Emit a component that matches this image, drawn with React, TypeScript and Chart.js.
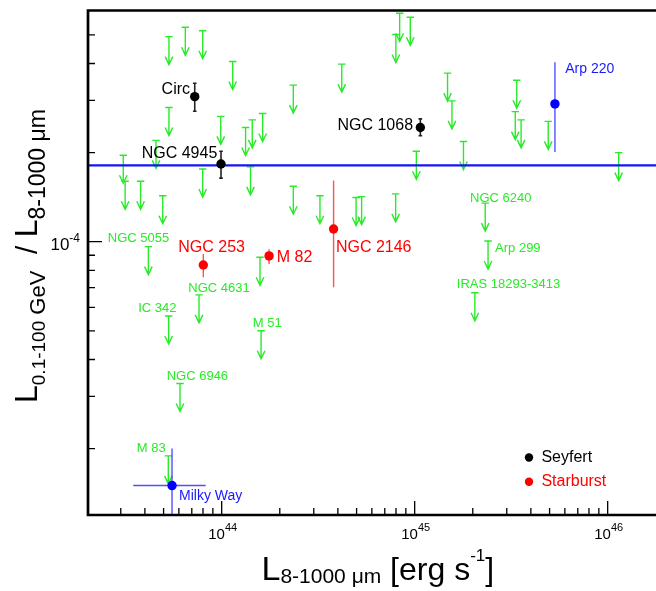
import React, { useEffect, useRef } from "react";
import { Chart, registerables } from "chart.js";

Chart.register(...registerables);

// ---------- axis ranges ----------
const X_MIN = 2.029e43;
const X_MAX = 1.78e46;
const Y_MIN = 1.193e-5;
const Y_MAX = 6.04e-4;

// ---------- ticks ----------
const xMajorTicks = [1e44, 1e45, 1e46];
const xMajorExponents = ["44", "45", "46"];
const xMinorTicks = [
  3e43, 4e43, 5e43, 6e43, 7e43, 8e43, 9e43,
  2e44, 3e44, 4e44, 5e44, 6e44, 7e44, 8e44, 9e44,
  2e45, 3e45, 4e45, 5e45, 6e45, 7e45, 8e45, 9e45,
];
const yMajorTicks = [1e-4];
const yMajorExponents = ["-4"];
const yMinorTicks = [2e-5, 3e-5, 4e-5, 5e-5, 6e-5, 7e-5, 8e-5, 9e-5, 2e-4, 3e-4, 4e-4, 5e-4];

// ---------- Seyferts (black) ----------
const seyfertNames = ["Circ", "NGC 4945", "NGC 1068"];
const seyfertL = [7.25e43, 9.92e43, 1.07e45];
const seyfertRatio = [3.09e-4, 1.83e-4, 2.43e-4];
const seyfertRatioLo = [2.76e-4, 1.64e-4, 2.28e-4];
const seyfertRatioHi = [3.43e-4, 2.02e-4, 2.6e-4];

// ---------- Starbursts (red) ----------
const starburstNames = ["NGC 253", "M 82", "NGC 2146"];
const starburstL = [8.03e43, 1.76e44, 3.8e44];
const starburstRatio = [8.34e-5, 8.95e-5, 1.104e-4];
const starburstRatioLo = [7.58e-5, 8.41e-5, 7.02e-5];
const starburstRatioHi = [9.09e-5, 9.43e-5, 1.61e-4];

// ---------- other detections (blue) ----------
const otherNames = ["Arp 220", "Milky Way"];
const otherL = [5.33e45, 5.53e43];
const otherLLo = [5.33e45, 3.48e43];
const otherLHi = [5.33e45, 8.26e43];
const otherRatio = [2.92e-4, 1.5e-5];
const otherRatioLo = [2.01e-4, 1.0e-5];
const otherRatioHi = [4.04e-4, 2.0e-5];

// ---------- upper limits (green) ----------
const limitNames = [
  "", "", "", "", "", "", "", "", "", "", "", "", "", "", "", "", "", "",
  "", "", "", "", "", "", "", "", "", "", "", "", "", "", "", "", "", "",
  "NGC 5055", "NGC 4631", "IC 342", "M 51", "NGC 6946", "M 83",
  "NGC 6240", "Arp 299", "IRAS 18293-3413",
];
const limitL = [
  3.09e43, 3.16e43, 3.8e43, 4.57e43, 4.95e43, 5.33e43, 5.33e43, 6.48e43, 7.97e43,
  7.97e43, 9.89e43, 1.14e44, 1.33e44, 1.44e44, 1.63e44, 1.41e44, 2.35e44, 2.35e44,
  3.23e44, 4.19e44, 4.97e44, 5.31e44, 7.97e44, 7.99e44, 8.36e44, 9.49e44, 1.02e45,
  1.48e45, 1.56e45, 1.79e45, 3.38e45, 3.32e45, 3.56e45, 4.92e45, 1.14e46, 1.58e44,
  4.17e43, 7.63e43, 5.31e43, 1.6e44, 6.08e43, 5.29e43,
  2.32e45, 2.4e45, 2.05e45,
];
const limitRatio = [
  1.96e-4, 1.6e-4, 1.6e-4, 2.2e-4, 1.43e-4, 4.93e-4, 2.84e-4, 5.3e-4, 5.16e-4,
  1.76e-4, 2.65e-4, 4.06e-4, 2.43e-4, 2.58e-4, 2.71e-4, 1.79e-4, 3.38e-4, 1.54e-4,
  1.43e-4, 3.98e-4, 1.41e-4, 1.42e-4, 1.45e-4, 5.01e-4, 5.91e-4, 5.73e-4, 2.02e-4,
  3.71e-4, 2.99e-4, 2.18e-4, 3.51e-4, 2.75e-4, 2.58e-4, 2.55e-4, 2.0e-4, 8.86e-5,
  9.62e-5, 6.61e-5, 5.61e-5, 5.0e-5, 3.32e-5, 1.89e-5,
  1.35e-4, 1.005e-4, 6.72e-5,
];

// ---------- mean ratio (horizontal line) ----------
const meanRatio = 1.81e-4;

// ---------- label placement (pixel offsets from the marker) ----------
type LabelPos = { dx: number; dy: number; align: CanvasTextAlign };
const labelLayout: Record<string, LabelPos> = {
  "Circ": { dx: -4.7, dy: -2.7, align: "right" },
  "NGC 4945": { dx: -3.7, dy: -5.7, align: "right" },
  "NGC 1068": { dx: -7.3, dy: 2.7, align: "right" },
  "NGC 253": { dx: -25, dy: -13.3, align: "left" },
  "M 82": { dx: 7.7, dy: 6.3, align: "left" },
  "NGC 2146": { dx: 2.3, dy: 22.7, align: "left" },
  "Arp 220": { dx: 10.3, dy: -30.7, align: "left" },
  "Milky Way": { dx: 7, dy: 14, align: "left" },
  "NGC 5055": { dx: -40.6, dy: -5, align: "left" },
  "NGC 4631": { dx: -10.7, dy: -3.3, align: "left" },
  "IC 342": { dx: -30.4, dy: -4.3, align: "left" },
  "M 51": { dx: -8.3, dy: -4, align: "left" },
  "NGC 6946": { dx: -13.3, dy: -3.3, align: "left" },
  "M 83": { dx: -31.6, dy: -3.4, align: "left" },
  "NGC 6240": { dx: -15.2, dy: -1.6, align: "left" },
  "Arp 299": { dx: 7, dy: 11.3, align: "left" },
  "IRAS 18293-3413": { dx: -18, dy: -5, align: "left" },
};

const FONT = '"Liberation Sans", Arial, Helvetica, sans-serif';
const GREEN = "rgb(40,235,40)";
const RED = "#ff0000";
const BLUE = "#1a1aff";

type Seg = { t: string; size: number; dy: number };

function drawRich(ctx: CanvasRenderingContext2D, segs: Seg[], x: number, y: number) {
  let cx = x;
  ctx.textAlign = "left";
  ctx.textBaseline = "alphabetic";
  for (const s of segs) {
    ctx.font = `${s.size}px ${FONT}`;
    ctx.fillText(s.t, cx, y + s.dy);
    cx += ctx.measureText(s.t).width;
  }
  return cx;
}

function richWidth(ctx: CanvasRenderingContext2D, segs: Seg[]) {
  let w = 0;
  for (const s of segs) {
    ctx.font = `${s.size}px ${FONT}`;
    w += ctx.measureText(s.t).width;
  }
  return w;
}

const customPlugin = {
  id: "customDraw",
  beforeDatasetsDraw(chart: any) {
    const { ctx, chartArea: a, scales } = chart;
    const xs = scales.x;
    const ys = scales.y;
    ctx.save();
    ctx.beginPath();
    ctx.rect(a.left, a.top, a.right - a.left, a.bottom - a.top);
    ctx.clip();

    // upper-limit arrows
    const meta = chart.getDatasetMeta(3);
    ctx.strokeStyle = GREEN;
    ctx.lineWidth = 1.4;
    meta.data.forEach((pt: any) => {
      const px = pt.x;
      const py = pt.y;
      const len = 28;
      ctx.beginPath();
      ctx.moveTo(px - 3.7, py);
      ctx.lineTo(px + 3.7, py);
      ctx.moveTo(px, py);
      ctx.lineTo(px, py + len);
      ctx.moveTo(px - 3.8, py + len - 8);
      ctx.lineTo(px, py + len);
      ctx.lineTo(px + 3.8, py + len - 8);
      ctx.stroke();
    });

    // error bars
    const bar = (
      xv: number, lo: number, hi: number, color: string, w: number, cap: number
    ) => {
      const px = xs.getPixelForValue(xv);
      const p1 = ys.getPixelForValue(lo);
      const p2 = ys.getPixelForValue(hi);
      ctx.strokeStyle = color;
      ctx.lineWidth = w;
      ctx.beginPath();
      ctx.moveTo(px, p1);
      ctx.lineTo(px, p2);
      if (cap > 0) {
        ctx.moveTo(px - cap, p1);
        ctx.lineTo(px + cap, p1);
        ctx.moveTo(px - cap, p2);
        ctx.lineTo(px + cap, p2);
      }
      ctx.stroke();
    };
    seyfertL.forEach((xv, i) => bar(xv, seyfertRatioLo[i], seyfertRatioHi[i], "#222", 1.6, 1.8));
    starburstL.forEach((xv, i) =>
      bar(xv, starburstRatioLo[i], starburstRatioHi[i], "rgba(255,40,40,0.8)", 1.4, 0)
    );
    otherL.forEach((xv, i) => {
      bar(xv, otherRatioLo[i], otherRatioHi[i], "rgba(50,50,255,0.85)", 1.4, 0);
      if (otherLLo[i] !== otherLHi[i]) {
        const py = ys.getPixelForValue(otherRatio[i]);
        ctx.beginPath();
        ctx.moveTo(xs.getPixelForValue(otherLLo[i]), py);
        ctx.lineTo(xs.getPixelForValue(otherLHi[i]), py);
        ctx.stroke();
      }
    });
    ctx.restore();
  },
  afterDraw(chart: any) {
    const { ctx, chartArea: a, scales } = chart;
    const xs = scales.x;
    const ys = scales.y;
    ctx.save();

    // point labels
    const put = (name: string, px: number, py: number, color: string, size: number) => {
      const l = labelLayout[name];
      if (!l) return;
      ctx.fillStyle = color;
      ctx.font = `${size}px ${FONT}`;
      ctx.textAlign = l.align;
      ctx.textBaseline = "alphabetic";
      ctx.fillText(name, px + l.dx, py + l.dy);
    };
    seyfertNames.forEach((n, i) =>
      put(n, xs.getPixelForValue(seyfertL[i]), ys.getPixelForValue(seyfertRatio[i]), "#000", 16)
    );
    starburstNames.forEach((n, i) =>
      put(n, xs.getPixelForValue(starburstL[i]), ys.getPixelForValue(starburstRatio[i]), RED, 16)
    );
    otherNames.forEach((n, i) =>
      put(n, xs.getPixelForValue(otherL[i]), ys.getPixelForValue(otherRatio[i]), BLUE, 14)
    );
    limitNames.forEach((n, i) => {
      if (!n) return;
      put(n, xs.getPixelForValue(limitL[i]), ys.getPixelForValue(limitRatio[i]), GREEN, 13);
    });

    // legend
    const lx = a.right - 127;
    const legend = [
      { t: "Seyfert", c: "#000", y: a.top + 447 },
      { t: "Starburst", c: RED, y: a.top + 471.2 },
    ];
    legend.forEach((e) => {
      ctx.fillStyle = e.c;
      ctx.beginPath();
      ctx.arc(lx, e.y, 4.2, 0, Math.PI * 2);
      ctx.fill();
      ctx.font = `16px ${FONT}`;
      ctx.textAlign = "left";
      ctx.fillText(e.t, lx + 12.4, e.y + 4.5);
    });

    // frame
    ctx.strokeStyle = "#000";
    ctx.lineWidth = 2.7;
    ctx.beginPath();
    ctx.moveTo(a.right + 5, a.top);
    ctx.lineTo(a.left, a.top);
    ctx.lineTo(a.left, a.bottom);
    ctx.lineTo(a.right + 5, a.bottom);
    ctx.stroke();

    // ticks
    ctx.lineWidth = 1.3;
    ctx.beginPath();
    xMajorTicks.forEach((v) => {
      const px = xs.getPixelForValue(v);
      ctx.moveTo(px, a.bottom);
      ctx.lineTo(px, a.bottom - 14);
    });
    xMinorTicks.forEach((v) => {
      const px = xs.getPixelForValue(v);
      ctx.moveTo(px, a.bottom);
      ctx.lineTo(px, a.bottom - 7);
    });
    yMajorTicks.forEach((v) => {
      const py = ys.getPixelForValue(v);
      ctx.moveTo(a.left, py);
      ctx.lineTo(a.left + 14, py);
    });
    yMinorTicks.forEach((v) => {
      const py = ys.getPixelForValue(v);
      ctx.moveTo(a.left, py);
      ctx.lineTo(a.left + 7, py);
    });
    ctx.stroke();

    // tick labels
    ctx.fillStyle = "#000";
    xMajorTicks.forEach((v, i) => {
      const px = xs.getPixelForValue(v);
      const segs: Seg[] = [
        { t: "10", size: 15, dy: 0 },
        { t: xMajorExponents[i], size: 11, dy: -7.5 },
      ];
      const w = richWidth(ctx, segs);
      drawRich(ctx, segs, px - w / 2 + 1, a.bottom + 23.5);
    });
    yMajorTicks.forEach((v, i) => {
      const py = ys.getPixelForValue(v);
      const segs: Seg[] = [
        { t: "10", size: 17, dy: 0 },
        { t: yMajorExponents[i], size: 12, dy: -8 },
      ];
      const w = richWidth(ctx, segs);
      drawRich(ctx, segs, a.left - 8 - w, py + 8.3);
    });

    // x-axis title
    drawRich(
      ctx,
      [
        { t: "L", size: 34, dy: 0 },
        { t: "8-1000 \u03bcm", size: 21, dy: 3 },
        { t: " [erg s", size: 32, dy: 0 },
        { t: "-1", size: 17, dy: -19 },
        { t: "]", size: 32, dy: 0 },
      ],
      261.5,
      a.bottom + 65
    );

    // y-axis title
    ctx.save();
    ctx.translate(37, 403);
    ctx.rotate(-Math.PI / 2);
    drawRich(
      ctx,
      [
        { t: "L", size: 32, dy: 0 },
        { t: "0.1-100", size: 19, dy: 8 },
        { t: " GeV", size: 22, dy: 8 },
        { t: "  / ", size: 30, dy: 0 },
        { t: "L", size: 32, dy: 0 },
        { t: "8-1000 \u03bcm", size: 23, dy: 8 },
      ],
      0,
      0
    );
    ctx.restore();

    ctx.restore();
  },
};

export default function App() {
  const ref = useRef<HTMLCanvasElement>(null);
  useEffect(() => {
    const canvas = ref.current;
    if (!canvas) return;
    const chart = new Chart(canvas, {
      type: "scatter",
      data: {
        datasets: [
          {
            label: "Seyfert",
            data: seyfertL.map((x, i) => ({ x, y: seyfertRatio[i] })),
            pointRadius: 4.7,
            pointBackgroundColor: "#000",
            pointBorderWidth: 0,
          },
          {
            label: "Starburst",
            data: starburstL.map((x, i) => ({ x, y: starburstRatio[i] })),
            pointRadius: 4.7,
            pointBackgroundColor: RED,
            pointBorderWidth: 0,
          },
          {
            label: "Other",
            data: otherL.map((x, i) => ({ x, y: otherRatio[i] })),
            pointRadius: 4.7,
            pointBackgroundColor: "#0000ff",
            pointBorderWidth: 0,
          },
          {
            label: "Upper limits",
            data: limitL.map((x, i) => ({ x, y: limitRatio[i] })),
            pointRadius: 0,
            pointHoverRadius: 0,
          },
          {
            label: "Mean",
            data: [
              { x: X_MIN, y: meanRatio },
              { x: X_MAX, y: meanRatio },
            ],
            showLine: true,
            borderColor: "rgb(20,20,245)",
            borderWidth: 2.2,
            pointRadius: 0,
          } as any,
        ],
      },
      options: {
        animation: false,
        responsive: false,
        maintainAspectRatio: false,
        devicePixelRatio: 1,
        layout: { autoPadding: false, padding: { top: 10.5, right: 0, left: 0, bottom: 0 } },
        plugins: { legend: { display: false }, tooltip: { enabled: false } },
        events: [],
        scales: {
          x: {
            type: "logarithmic",
            min: X_MIN,
            max: X_MAX,
            grid: { display: false },
            border: { display: false },
            ticks: { display: false },
            afterFit: (s: any) => {
              s.height = 76;
            },
          },
          y: {
            type: "logarithmic",
            min: Y_MIN,
            max: Y_MAX,
            grid: { display: false },
            border: { display: false },
            ticks: { display: false },
            afterFit: (s: any) => {
              s.width = 88;
            },
          },
        },
      } as any,
      plugins: [customPlugin],
    });
    const fonts: any = (document as any).fonts;
    if (fonts && fonts.load) {
      Promise.all([fonts.load(`16px ${FONT}`)]).then(() => {
        try {
          chart.draw();
        } catch (e) {}
      });
    }
    return () => chart.destroy();
  }, []);
  return (
    <div
      style={{
        position: "absolute",
        left: 0,
        top: 0,
        width: 656,
        height: 591,
        background: "#fff",
        overflow: "hidden",
      }}
    >
      <canvas ref={ref} width={656} height={591} style={{ display: "block", width: 656, height: 591 }} />
    </div>
  );
}
